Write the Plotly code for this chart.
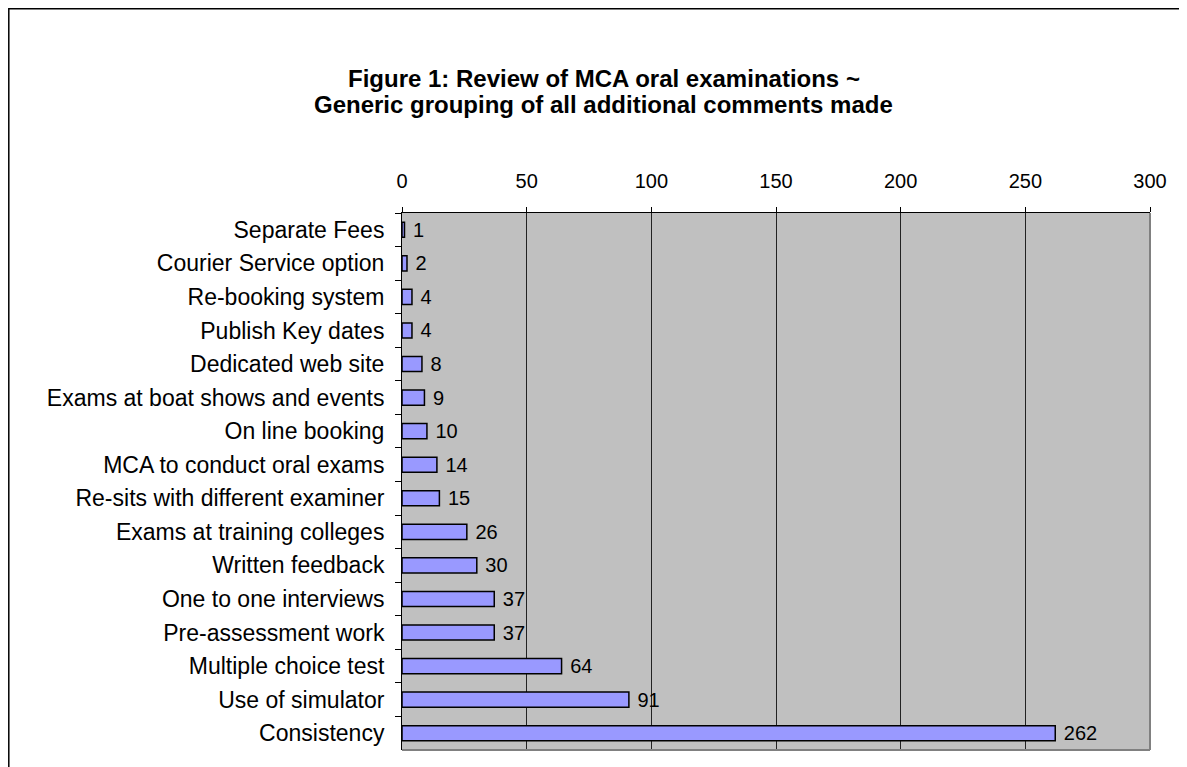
import plotly.graph_objects as go

categories = [
    "Separate Fees", "Courier Service option", "Re-booking system", "Publish Key dates",
    "Dedicated web site", "Exams at boat shows and events", "On line booking",
    "MCA to conduct oral exams", "Re-sits with different examiner",
    "Exams at training colleges", "Written feedback", "One to one interviews",
    "Pre-assessment work", "Multiple choice test", "Use of simulator", "Consistency",
]
values = [1, 2, 4, 4, 8, 9, 10, 14, 15, 26, 30, 37, 37, 64, 91, 262]
x_ticks = [0, 50, 100, 150, 200, 250, 300]
title_lines = ["Figure 1: Review of MCA oral examinations ~",
               "Generic grouping of all additional comments made"]

FONT = "Liberation Sans, Arial, sans-serif"

# figure pixel geometry (page has 8px body offset)
W, H = 1179, 759
L, T = 394, 205
PW, PH = 748, 537


def px(x):
    return (x - L) / PW


def py(y):
    return (T + PH - y) / PH


fig = go.Figure(go.Bar(
    x=values, y=categories, orientation="h",
    marker=dict(color="#9999FF", line=dict(color="black", width=1.5)),
    text=["\u00a0" + str(v) for v in values], textposition="outside",
    textfont=dict(family=FONT, size=20, color="black"),
    constraintext="none", cliponaxis=False, width=0.45,
))

fig.update_layout(
    width=W, height=H,
    margin=dict(l=L, r=W - L - PW, t=T, b=H - T - PH),
    paper_bgcolor="white", plot_bgcolor="#C0C0C0",
    font=dict(family=FONT, size=20, color="black"),
    showlegend=False,
    bargap=0.55,
)

for i, line in enumerate(title_lines):
    fig.add_annotation(
        text="<b>" + line + "</b>", xref="paper", yref="paper",
        x=px(W / 2 + 6), y=py(71 + 25 * i), xanchor="center", yanchor="middle",
        showarrow=False, font=dict(family=FONT, size=24, color="black"),
    )

fig.update_xaxes(
    side="top", range=[0, 300], tickvals=x_ticks, ticktext=[str(t) for t in x_ticks],
    showgrid=True, gridcolor="#222222", gridwidth=1,
    showline=True, linecolor="black", linewidth=1,
    ticks="outside", ticklen=5, tickcolor="black",
    tickfont=dict(size=20), ticklabelstandoff=11, zeroline=False,
)
fig.update_yaxes(
    autorange="reversed", type="category",
    showline=True, linecolor="black", linewidth=1,
    ticks="outside", ticklen=6, tickcolor="black", tickson="boundaries",
    tickfont=dict(size=23), ticklabelstandoff=12, showgrid=False,
)

# plot-area right/bottom edges and outer border
fig.add_shape(type="line", xref="paper", yref="paper", x0=1, x1=1, y0=0, y1=1,
              line=dict(color="#808080", width=2))
fig.add_shape(type="line", xref="paper", yref="paper", x0=0, x1=1, y0=0, y1=0,
              line=dict(color="#808080", width=2))
fig.add_shape(type="rect", xref="paper", yref="paper",
              x0=px(0.8), x1=px(W + 20), y0=py(H + 20), y1=py(0.8),
              line=dict(color="black", width=1.5), fillcolor="rgba(0,0,0,0)")

fig.write_html("out.html")
